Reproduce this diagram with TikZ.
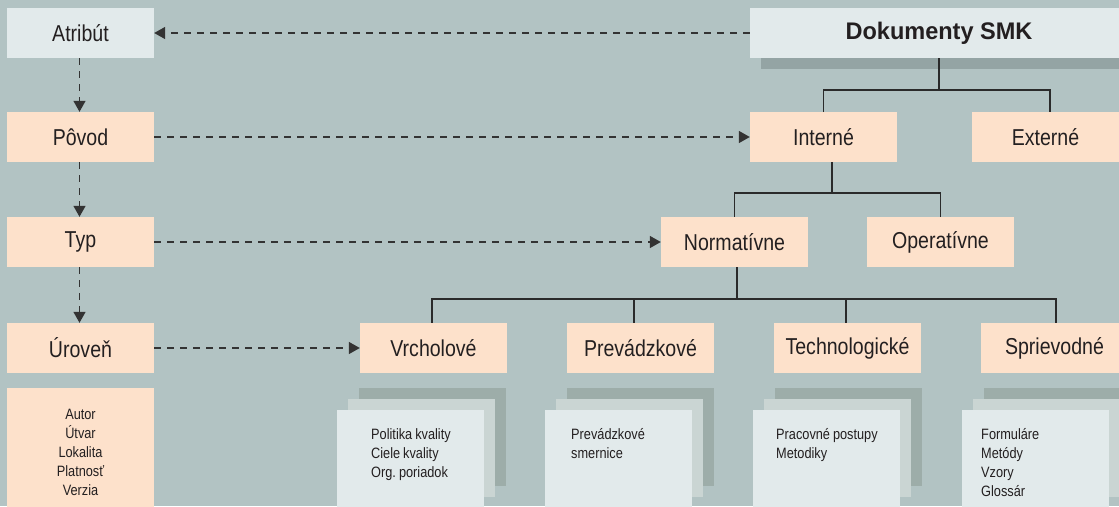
\documentclass[tikz,border=0pt]{standalone}
\usepackage{fontspec}
\setmainfont{Liberation Sans}[FakeStretch=0.85]
\newfontfamily\titlefont{Liberation Sans}[FakeStretch=0.98]
\usetikzlibrary{arrows.meta}
\frenchspacing
\definecolor{bg}{HTML}{B2C3C3}
\definecolor{lightbox}{HTML}{E2EAEB}
\definecolor{peach}{HTML}{FDE1CB}
\definecolor{shadowc}{HTML}{94A4A4}
\definecolor{stackback}{HTML}{9DADA9}
\definecolor{stackmid}{HTML}{CAD5D3}
\definecolor{txt}{HTML}{231F20}
\definecolor{linec}{HTML}{2A2A2A}
\definecolor{dashc}{HTML}{333333}
\newlength\smallspace
\setlength\smallspace{3pt}
\tikzset{
  box/.style={minimum width=147pt, minimum height=50pt, inner sep=0pt,
    font=\fontsize{23}{27}\selectfont, text=txt},
  peachbox/.style={box, fill=peach},
  lightbox/.style={box, fill=lightbox},
  titlebox/.style={lightbox, minimum width=378pt, font=\titlefont\bfseries\fontsize{24}{28}\selectfont},
  dasharrow/.style={draw=dashc, line width=1.5pt, dash pattern=on 7pt off 6pt,
    -{Triangle[length=11pt,width=12pt]}},
  tree/.style={draw=linec, line width=1.5pt},
  smalltext/.style={font=\fontsize{15}{19}\selectfont, text=txt, inner sep=0pt,
    text width=140pt, align=left, anchor=base west,
    execute at begin node={\spaceskip=\smallspace\relax}},
  centertext/.style={font=\fontsize{15}{19}\selectfont, text=txt, inner sep=0pt,
    text width=147pt, align=center, anchor=base}
}
\begin{document}
\begin{tikzpicture}[x=1pt,y=-1pt]
\useasboundingbox[fill=bg] (0,0) rectangle (1119,506);

% shadow of the title box
\fill[shadowc] (761,47) rectangle (1130,69);

% main boxes
\node[titlebox] (dok) at (939,33) {Dokumenty SMK};
\node[lightbox] (atr) at (80.5,33) {Atribút};
\node[peachbox] (pov) at (80.5,137) {Pôvod};
\node[peachbox] (typ) at (80.5,242) {Typ};
\node[peachbox] (urov) at (80.5,348) {Úroveň};

\node[peachbox] (int) at (823.5,137) {Interné};
\node[peachbox] (ext) at (1045.5,137) {Externé};
\node[peachbox] (norm) at (734.5,242) {Normatívne};
\node[peachbox] (oper) at (940.5,242) {Operatívne};
\node[peachbox] (vr) at (433.5,348) {Vrcholové};
\node[peachbox] (prev) at (640.5,348) {Prevádzkové};
\node[peachbox] (tech) at (847.5,348) {Technologické};
\node[peachbox] (spr) at (1054.5,348) {Sprievodné};

% attribute list box
\fill[peach] (7,388) rectangle (154,508);
\node[centertext] (attrs) at (80.5,419) {Autor\\Útvar\\Lokalita\\Platnosť\\Verzia};

% document stacks
\foreach \x in {337,545,753,962}{
  \fill[stackback] (\x+22,388) rectangle (\x+169,486);
  \fill[stackmid] (\x+11,399) rectangle (\x+158,497);
  \fill[lightbox] (\x,410) rectangle (\x+147,508);
}
\node[smalltext] (tvr) at (371,439) {Politika kvality\\Ciele kvality\\Org. poriadok};
\node[smalltext] (tprev) at (571,439) {Prevádzkové\\smernice};
\node[smalltext] (ttech) at (776,439) {Pracovné postupy\\Metodiky};
\node[smalltext] (tspr) at (981,439) {Formuláre\\Metódy\\Vzory\\Glossár};

% tree connectors
\draw[tree] (dok.south) -- ++(0,32) coordinate (j1);
\draw[tree] (int.north) |- (j1) -| ([xshift=4.5pt]ext.north);
\draw[tree] ([xshift=8.5pt]int.south) -- ++(0,31) coordinate (j2);
\draw[tree] (norm.north) |- (j2) -| (oper.north);
\draw[tree] ([xshift=2.5pt]norm.south) -- ++(0,32) coordinate (j3);
\draw[tree] ([xshift=-1.5pt]vr.north) |- (j3) -| ([xshift=1.5pt]spr.north);
\draw[tree] ([xshift=-6.5pt]prev.north) -- ([xshift=-6.5pt]prev.north |- j3);
\draw[tree] ([xshift=-1.5pt]tech.north) -- ([xshift=-1.5pt]tech.north |- j3);

% dashed arrows
\draw[dasharrow] (dok.west) -- (atr.east);
\draw[dasharrow] (pov.east) -- (int.west);
\draw[dasharrow] (typ.east) -- (norm.west);
\draw[dasharrow] (urov.east) -- (vr.west);
\draw[dasharrow] ([xshift=-1pt]atr.south) -- ([xshift=-1pt]pov.north);
\draw[dasharrow] ([xshift=-1pt]pov.south) -- ([xshift=-1pt]typ.north);
\draw[dasharrow] ([xshift=-1pt]typ.south) -- ([xshift=-1pt]urov.north);
\end{tikzpicture}
\end{document}
